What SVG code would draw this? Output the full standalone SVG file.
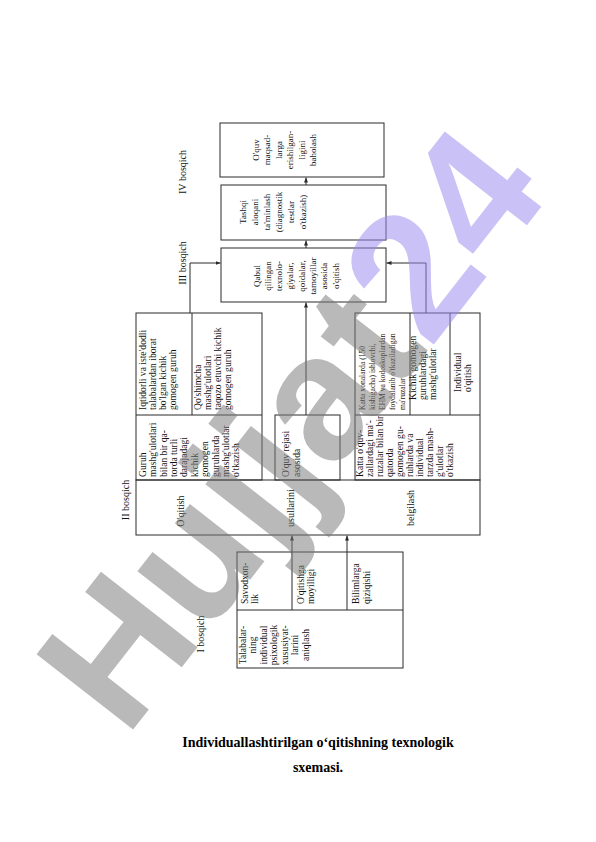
<svg xmlns="http://www.w3.org/2000/svg" width="596" height="842" viewBox="0 0 596 842">
<style>
.b{fill:none;stroke:#2a2a2a;stroke-width:1}
.l{fill:none;stroke:#2a2a2a;stroke-width:1}
.t{font-family:"Liberation Serif","Times New Roman",serif;font-size:9.6px;fill:#111}
.s{font-size:9px}
.xs{font-size:7.6px}
.lab{font-size:10px}
.m{text-anchor:middle}
.cap{font-family:"Liberation Serif","Times New Roman",serif;font-weight:bold;font-size:14px;text-anchor:middle;fill:#000}
.wm{font-family:"Liberation Sans",Arial,sans-serif;font-weight:bold;font-size:178px;text-anchor:middle}
</style>
<defs>
<marker id="ah" viewBox="0 0 6 6" refX="6" refY="3" markerWidth="5" markerHeight="5" orient="auto"><path d="M0,0.6 L6,3 L0,5.4 z" fill="#2a2a2a"/></marker>
</defs>
<rect width="596" height="842" fill="#fff"/>

<g id="stage-labels">
<text class="t lab m" transform="translate(185.5,172) rotate(-90)">IV bosqich</text>
<text class="t lab m" transform="translate(185.5,263) rotate(-90)">III bosqich</text>
<text class="t lab m" transform="translate(128.5,500) rotate(-90)">II bosqich</text>
<text class="t lab m" transform="translate(203.5,634) rotate(-90)">I bosqich</text>
</g>

<g id="node-baholash">
<rect class="b" x="220" y="123" width="164" height="54"/>
<text class="t s m" transform="translate(258.5,150) rotate(-90)">O'quv</text>
<text class="t s m" transform="translate(270,150) rotate(-90)">maqsad-</text>
<text class="t s m" transform="translate(281.5,150) rotate(-90)">larga</text>
<text class="t s m" transform="translate(293,150) rotate(-90)">erishilgan-</text>
<text class="t s m" transform="translate(304.5,150) rotate(-90)">ligini</text>
<text class="t s m" transform="translate(316,150) rotate(-90)">baholash</text>
</g>

<g id="node-tashqi">
<rect class="b" x="221" y="185" width="165" height="55"/>
<text class="t s m" transform="translate(245.5,212) rotate(-90)">Tashqi</text>
<text class="t s m" transform="translate(257.5,212) rotate(-90)">aloqani</text>
<text class="t s m" transform="translate(269.5,212) rotate(-90)">ta'minlash</text>
<text class="t s m" transform="translate(281.5,212) rotate(-90)">(diagnostik</text>
<text class="t s m" transform="translate(293.5,212) rotate(-90)">testlar</text>
<text class="t s m" transform="translate(305.5,212) rotate(-90)">o'tkazish)</text>
</g>

<g id="node-qabul">
<rect class="b" x="221" y="248" width="165" height="54"/>
<text class="t s m" transform="translate(259.5,276) rotate(-90)">Qabul</text>
<text class="t s m" transform="translate(270.8,276) rotate(-90)">qilingan</text>
<text class="t s m" transform="translate(282.1,276) rotate(-90)">texnolo-</text>
<text class="t s m" transform="translate(293.4,276) rotate(-90)">giyalar,</text>
<text class="t s m" transform="translate(304.7,276) rotate(-90)">qoidalar,</text>
<text class="t s m" transform="translate(316,276) rotate(-90)">tamoyillar</text>
<text class="t s m" transform="translate(327.3,276) rotate(-90)">asosida</text>
<text class="t s m" transform="translate(338.6,276) rotate(-90)">o'qitish</text>
</g>

<g id="node-guruhlar">
<rect class="b" x="136" y="313" width="126" height="167"/>
<line class="l" x1="136" y1="415" x2="262" y2="415"/>
<line class="l" x1="192" y1="313" x2="192" y2="415"/>
<text class="t" transform="translate(145.7,410) rotate(-90)">Iqtidorli va iste'dodli</text>
<text class="t" transform="translate(155.9,410) rotate(-90)">talabalardan iborat</text>
<text class="t" transform="translate(166.1,410) rotate(-90)">bo'lgan kichik</text>
<text class="t" transform="translate(176.3,410) rotate(-90)">gomogen guruh</text>
<text class="t" transform="translate(200.7,410) rotate(-90)">Qo'shimcha</text>
<text class="t" transform="translate(210.9,410) rotate(-90)">mashg'ulotlari</text>
<text class="t" transform="translate(221.1,410) rotate(-90)">taqozo etuvchi kichik</text>
<text class="t" transform="translate(231.3,410) rotate(-90)">gomogen guruh</text>
<text class="t" transform="translate(145.7,477) rotate(-90)">Guruh</text>
<text class="t" transform="translate(156.1,477) rotate(-90)">mashg'ulotlari</text>
<text class="t" transform="translate(166.5,477) rotate(-90)">bilan bir qa-</text>
<text class="t" transform="translate(176.9,477) rotate(-90)">torda turli</text>
<text class="t" transform="translate(187.3,477) rotate(-90)">darajadagi</text>
<text class="t" transform="translate(197.7,477) rotate(-90)">kichik</text>
<text class="t" transform="translate(208.1,477) rotate(-90)">gomogen</text>
<text class="t" transform="translate(218.5,477) rotate(-90)">guruhlarda</text>
<text class="t" transform="translate(228.9,477) rotate(-90)">mashg'ulotlar</text>
<text class="t" transform="translate(239.3,477) rotate(-90)">o'tkazish</text>
</g>

<g id="node-oquv-reja">
<rect class="b" x="275" y="415" width="65" height="65"/>
<text class="t" transform="translate(288.7,477) rotate(-90)">O'quv rejasi</text>
<text class="t" transform="translate(299.7,477) rotate(-90)">asosida</text>
</g>

<g id="node-mashgulot-turlari">
<rect class="b" x="355" y="313" width="125" height="167"/>
<line class="l" x1="355" y1="415" x2="480" y2="415"/>
<line class="l" x1="410" y1="313" x2="410" y2="415"/>
<line class="l" x1="450" y1="313" x2="450" y2="415"/>
<text class="t xs" transform="translate(364.5,410) rotate(-90)">Katta xonalarda (150</text>
<text class="t xs" transform="translate(374.5,410) rotate(-90)">kishigacha) ishlovchi,</text>
<text class="t xs" transform="translate(384.5,410) rotate(-90)">EHM va kodoskoplardan</text>
<text class="t xs" transform="translate(394.5,410) rotate(-90)">foydalanib o'tkaziladigan</text>
<text class="t xs" transform="translate(404.5,410) rotate(-90)">ma'ruzalar</text>
<text class="t" transform="translate(415.7,400) rotate(-90)">Kichik gomogen</text>
<text class="t" transform="translate(425.7,400) rotate(-90)">guruhlardagi</text>
<text class="t" transform="translate(435.7,400) rotate(-90)">mashg'ulotlar</text>
<text class="t" transform="translate(460.7,392) rotate(-90)">Individual</text>
<text class="t" transform="translate(470.7,392) rotate(-90)">o'qitish</text>
<text class="t" transform="translate(362.7,477) rotate(-90)">Katta o'quv-</text>
<text class="t" transform="translate(372.7,477) rotate(-90)">zallardagi ma'-</text>
<text class="t" transform="translate(382.7,477) rotate(-90)">ruzalar bilan bir</text>
<text class="t" transform="translate(392.7,477) rotate(-90)">qatorda</text>
<text class="t" transform="translate(402.7,477) rotate(-90)">gomogen gu-</text>
<text class="t" transform="translate(412.7,477) rotate(-90)">ruhlarda va</text>
<text class="t" transform="translate(422.7,477) rotate(-90)">individual</text>
<text class="t" transform="translate(432.7,477) rotate(-90)">tarzda mash-</text>
<text class="t" transform="translate(442.7,477) rotate(-90)">g'ulotlar</text>
<text class="t" transform="translate(452.7,477) rotate(-90)">o'tkazish</text>
</g>

<g id="node-usullar">
<rect class="b" x="136" y="480" width="344" height="55"/>
<text class="t lab m" transform="translate(183.5,511) rotate(-90)">O'qitish</text>
<text class="t lab m" transform="translate(293.5,508) rotate(-90)">usullarini</text>
<text class="t lab m" transform="translate(413.5,508) rotate(-90)">belgilash</text>
</g>

<g id="node-bosqich1">
<rect class="b" x="237" y="552" width="166" height="116"/>
<line class="l" x1="237" y1="610" x2="403" y2="610"/>
<line class="l" x1="292" y1="552" x2="292" y2="610"/>
<line class="l" x1="347" y1="552" x2="347" y2="610"/>
<text class="t" transform="translate(247.7,604) rotate(-90)">Savodxon-</text>
<text class="t" transform="translate(257.7,604) rotate(-90)">lik</text>
<text class="t" transform="translate(303.7,604) rotate(-90)">O'qitishga</text>
<text class="t" transform="translate(313.7,604) rotate(-90)">moyilligi</text>
<text class="t" transform="translate(358.7,604) rotate(-90)">Bilimlarga</text>
<text class="t" transform="translate(369.7,604) rotate(-90)">qiziqishi</text>
<text class="t m" transform="translate(245.7,645) rotate(-90)">Talabalar-</text>
<text class="t m" transform="translate(256.2,645) rotate(-90)">ning</text>
<text class="t m" transform="translate(266.7,645) rotate(-90)">individual</text>
<text class="t m" transform="translate(277.2,645) rotate(-90)">psixologik</text>
<text class="t m" transform="translate(287.7,645) rotate(-90)">xususiyat-</text>
<text class="t m" transform="translate(298.2,645) rotate(-90)">larini</text>
<text class="t m" transform="translate(308.7,645) rotate(-90)">aniqlash</text>
</g>

<g id="connectors">
<path class="l" d="M292,552 V535.5" marker-end="url(#ah)"/>
<path class="l" d="M347,552 V535.5" marker-end="url(#ah)"/>
<path class="l" d="M306,415 V302.5" marker-end="url(#ah)"/>
<path class="l" d="M306,248 V240.5" marker-end="url(#ah)"/>
<path class="l" d="M306,185 V177.5" marker-end="url(#ah)"/>
<path class="l" d="M190,313 V263 H220.5" marker-end="url(#ah)"/>
<path class="l" d="M426,313 V263 H386.5" marker-end="url(#ah)"/>
</g>

<text class="cap" x="318" y="747">Individuallashtirilgan o‘qitishning texnologik</text>
<text class="cap" x="318" y="772">sxemasi.</text>

<g id="watermark" opacity="0.52">
<text class="wm" transform="translate(290,428) rotate(-52)" y="62"><tspan fill="#7a7a7a">Hujjat</tspan><tspan fill="#9a8cee">24</tspan></text>
</g>
</svg>
